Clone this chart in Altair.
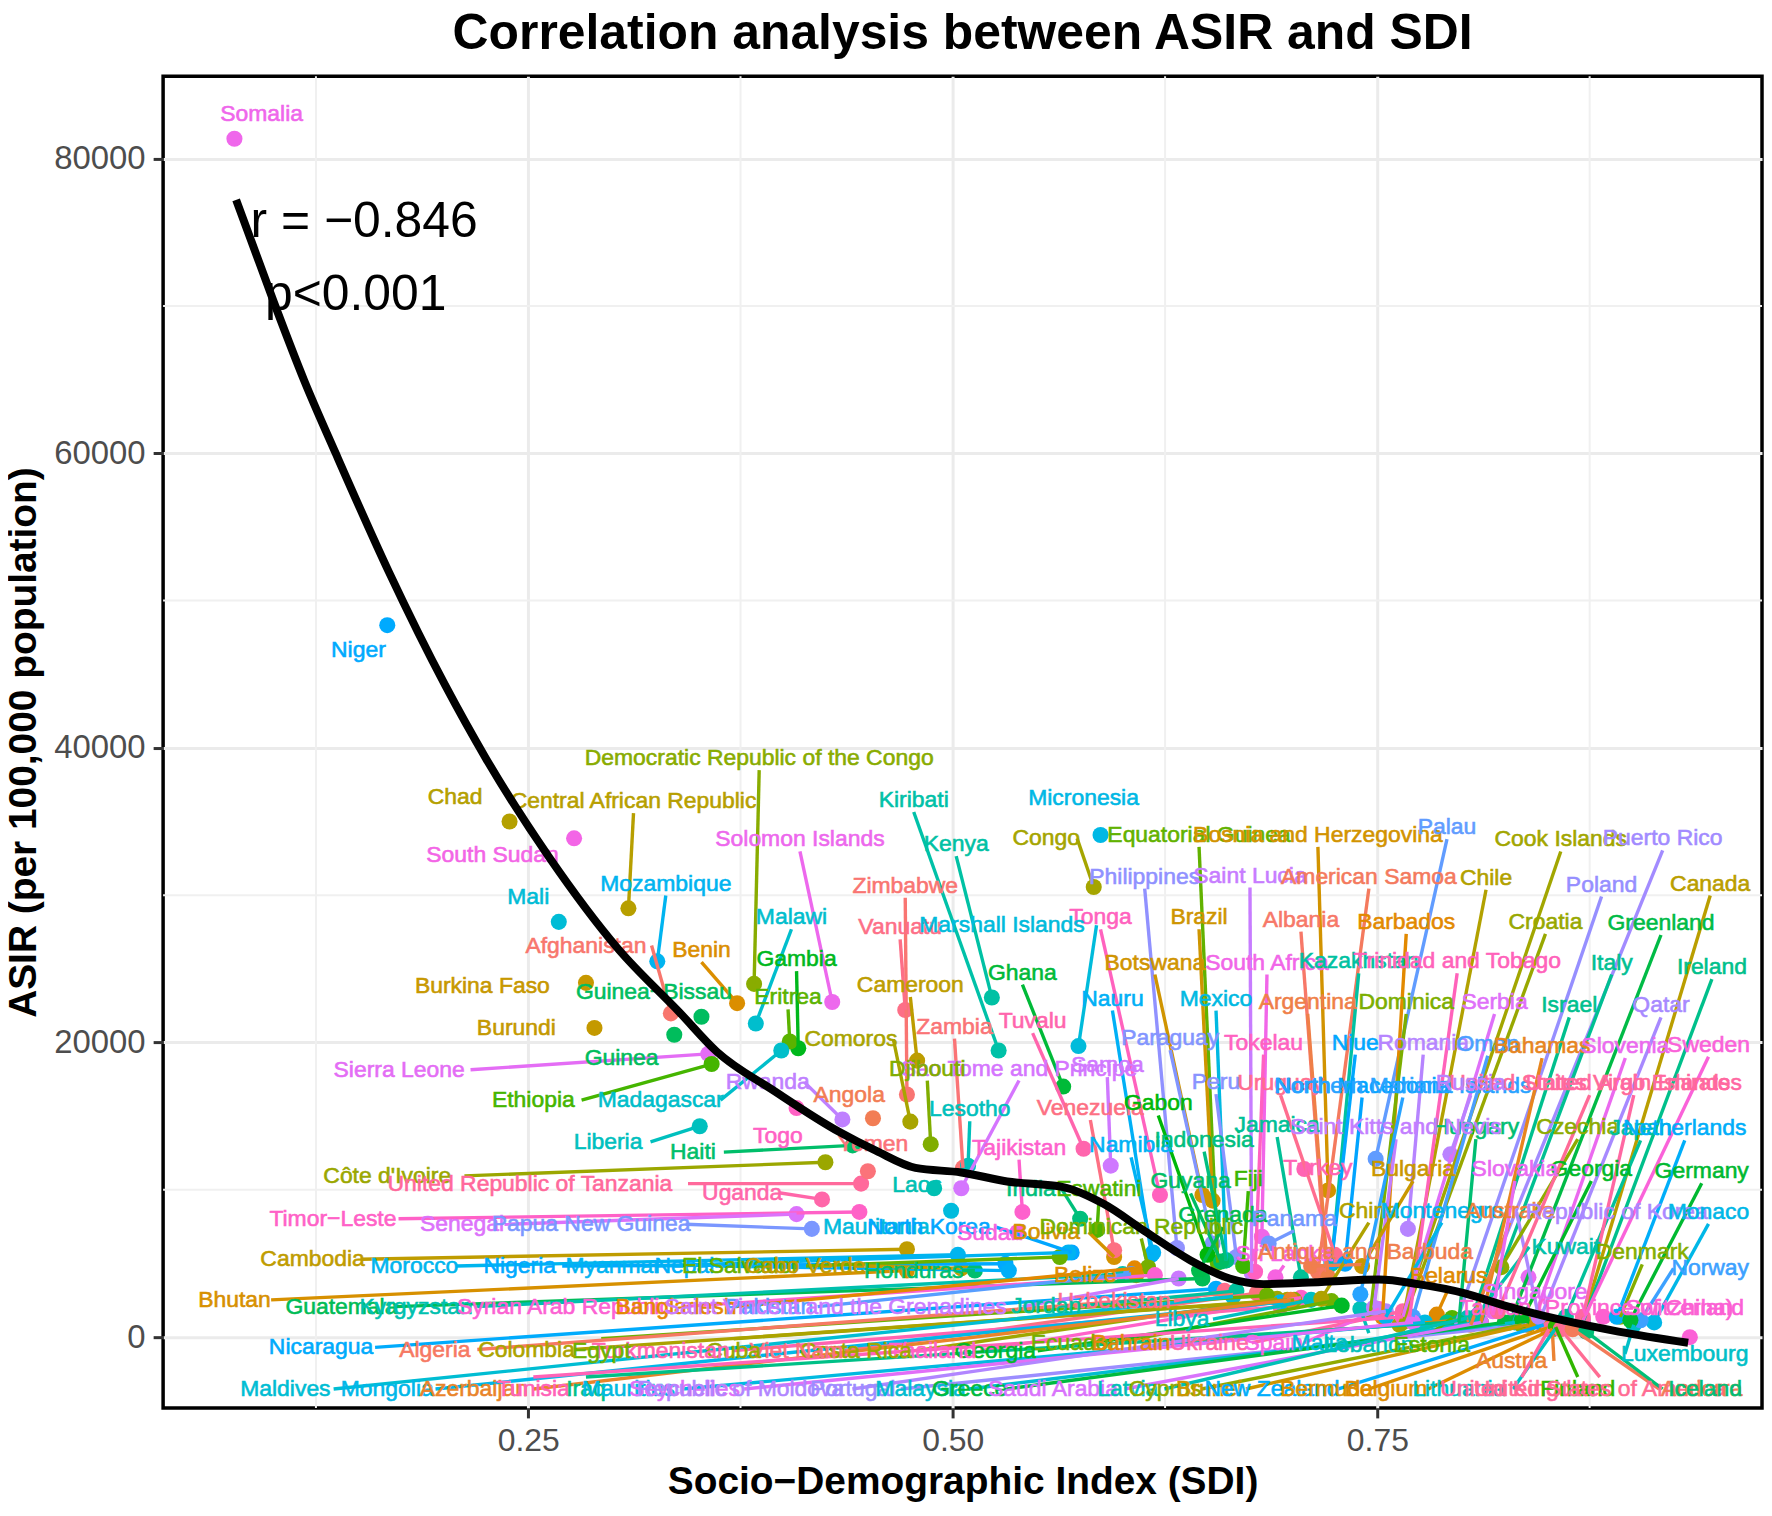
import math
import altair as alt
import pandas as pd

country_order = ["Afghanistan","Albania","Algeria","American Samoa","Andorra","Angola","Antigua and Barbuda","Argentina","Armenia","Australia","Austria","Azerbaijan","Bahamas","Bahrain","Bangladesh","Barbados","Belarus","Belgium","Belize","Benin","Bermuda","Bhutan","Bolivia","Bosnia and Herzegovina","Botswana","Brazil","Brunei","Bulgaria","Burkina Faso","Burundi","Cabo Verde","Cambodia","Cameroon","Canada","Central African Republic","Chad","Chile","China","Colombia","Comoros","Congo","Cook Islands","Costa Rica","Côte d'Ivoire","Croatia","Cuba","Cyprus","Czechia","Democratic Republic of the Congo","Denmark","Djibouti","Dominica","Dominican Republic","Ecuador","Egypt","El Salvador","Equatorial Guinea","Eritrea","Estonia","Eswatini","Ethiopia","Fiji","Finland","France","Gabon","Gambia","Georgia","Germany","Ghana","Greece","Greenland","Grenada","Guam","Guatemala","Guinea","Guinea-Bissau","Guyana","Haiti","Honduras","Hungary","Iceland","India","Indonesia","Iran","Iraq","Ireland","Israel","Italy","Jamaica","Japan","Jordan","Kazakhstan","Kenya","Kiribati","Kuwait","Kyrgyzstan","Laos","Latvia","Lebanon","Lesotho","Liberia","Libya","Lithuania","Luxembourg","Madagascar","Malawi","Malaysia","Maldives","Mali","Malta","Marshall Islands","Mauritania","Mauritius","Mexico","Micronesia","Monaco","Mongolia","Montenegro","Morocco","Mozambique","Myanmar","Namibia","Nauru","Nepal","Netherlands","New Zealand","Nicaragua","Niger","Nigeria","Niue","North Korea","North Macedonia","Northern Mariana Islands","Norway","Oman","Pakistan","Palau","Palestine","Panama","Papua New Guinea","Paraguay","Peru","Philippines","Poland","Portugal","Puerto Rico","Qatar","Republic of Korea","Republic of Moldova","Romania","Russia","Rwanda","Saint Kitts and Nevis","Saint Lucia","Saint Vincent and the Grenadines","Samoa","San Marino","Sao Tome and Principe","Saudi Arabia","Senegal","Serbia","Seychelles","Sierra Leone","Singapore","Slovakia","Slovenia","Solomon Islands","Somalia","South Africa","South Sudan","Spain","Sri Lanka","Sudan","Suriname","Sweden","Switzerland","Syrian Arab Republic","Taiwan (Province of China)","Tajikistan","Thailand","Timor-Leste","Togo","Tokelau","Tonga","Trinidad and Tobago","Tunisia","Turkey","Turkmenistan","Tuvalu","Uganda","Ukraine","United Arab Emirates","United Kingdom","United Republic of Tanzania","United States Virgin Islands","United States of America","Uruguay","Uzbekistan","Vanuatu","Venezuela","Viet Nam","Yemen","Zambia","Zimbabwe"]

names = ["Somalia","Niger","Chad","South Sudan","Central African Republic","Democratic Republic of the Congo","Mali","Mozambique","Afghanistan","Burkina Faso",
"Burundi","Benin","Guinea-Bissau","Guinea","Sierra Leone","Ethiopia","Malawi","Gambia","Eritrea","Solomon Islands",
"Madagascar","Zimbabwe","Vanuatu","Cameroon","Comoros","Zambia","Kiribati","Kenya","Micronesia","Congo",
"Equatorial Guinea","Bosnia and Herzegovina","Palau","Cook Islands","Puerto Rico","Philippines","Saint Lucia","American Samoa","Chile","Poland",
"Canada","Tonga","Marshall Islands","Ghana","Brazil","Albania","Barbados","Croatia","Greenland","Botswana",
"South Africa","Kazakhstan","Trinidad and Tobago","Nauru","Mexico","Argentina","Dominica","Serbia","Israel","Italy",
"Qatar","Ireland","Tuvalu","Sao Tome and Principe","Djibouti","Samoa","Paraguay","Tokelau","Niue","Romania",
"Oman","Bahamas","Slovenia","Sweden","Mauritania","North Korea","Sudan","Bolivia","Dominican Republic","Eswatini",
"Namibia","Ecuador","Bahrain","Belarus","Ukraine","Spain","Malta","Lebanon","Estonia","Austria",
"Luxembourg","Georgia","Thailand","Costa Rica","Viet Nam","Cuba","Turkmenistan","Egypt","Colombia","Algeria",
"Nicaragua","Maldives","Mongolia","Azerbaijan","Tunisia","Iraq","Mauritius","Seychelles","Republic of Moldova","Portugal",
"Malaysia","Greece","Saudi Arabia","Latvia","Cyprus","Brunei","New Zealand","Bermuda","Belgium","Lithuania",
"United Kingdom","Finland","United States of America","Andorra","Iceland","Guatemala","Kyrgyzstan","Syrian Arab Republic","Bangladesh","Pakistan",
"Saint Vincent and the Grenadines","Uzbekistan","Libya","Jordan","Morocco","Nigeria","Myanmar","Nepal","El Salvador","Cabo Verde",
"Honduras","Cambodia","Bhutan","Belize","Côte d'Ivoire","United Republic of Tanzania","Uganda","Timor-Leste","Senegal","Papua New Guinea",
"Angola","Rwanda","Togo","Yemen","Haiti","Liberia","Lesotho","Tajikistan","Laos","India",
"Venezuela","Gabon","Peru","Jamaica","Indonesia","Guyana","Fiji","Grenada","Panama","Sri Lanka",
"Antigua and Barbuda","China","Montenegro","Australia","Republic of Korea","Monaco","Norway","Denmark","Kuwait","Singapore",
"Taiwan (Province of China)","Switzerland","Hungary","Saint Kitts and Nevis","Czechia","Japan","Netherlands","Germany","Georgia","Slovakia",
"Bulgaria","Turkey","Uruguay","North Macedonia","Northern Mariana Islands","United States Virgin Islands","United Arab Emirates","Russia"]

sdi = [.077,.167,.239,.277,.309,.383,.268,.326,.334,.284,
.289,.373,.352,.336,.356,.358,.384,.409,.404,.429,
.399,.473,.472,.479,.475,.506,.527,.523,.587,.583,
.656,.721,.749,.763,.805,.632,.676,.715,.765,.796,
.871,.622,.574,.565,.653,.720,.753,.765,.828,.647,
.682,.723,.769,.617,.661,.721,.746,.765,.805,.811,
.845,.871,.577,.505,.487,.593,.653,.678,.723,.768,
.771,.811,.842,.871,.499,.570,.538,.595,.615,.585,
.618,.723,.798,.785,.765,.751,.809,.740,.794,.853,
.901,.729,.705,.691,.679,.701,.693,.685,.697,.665,
.655,.665,.693,.699,.765,.791,.778,.771,.755,.838,
.831,.825,.811,.803,.835,.839,.848,.850,.853,.855,
.851,.855,.858,.865,.873,.647,.600,.619,.607,.605,
.633,.660,.711,.667,.503,.531,.568,.533,.563,.505,
.513,.473,.473,.608,.425,.446,.423,.445,.408,.417,
.453,.435,.408,.450,.441,.351,.509,.541,.489,.575,
.595,.650,.667,.705,.661,.658,.671,.645,.686,.690,
.711,.717,.755,.805,.845,.913,.905,.893,.808,.839,
.883,.934,.798,.748,.823,.861,.891,.899,.835,.818,
.741,.707,.725,.731,.740,.821,.871,.793]

asir = [81350,48330,35000,33860,29110,23980,28190,25510,21980,24050,
20990,22670,21750,20530,19230,18540,21290,19610,20070,22750,
19460,16470,22210,18770,14630,11490,19460,23060,34090,30560,
5060,9960,12100,840,1000,6050,4370,4440,1150,840,
1150,9650,19760,17010,9270,4440,1380,1000,1000,9650,
6820,4980,1380,5590,5210,4060,1760,1380,1000,1000,
1000,1000,12790,10110,13100,11640,6360,4440,5130,7350,
1380,1000,1150,1150,8580,5750,7120,5440,4750,7280,
5750,2450,1150,1530,1760,1910,1000,1910,1300,540,
840,2140,2680,2600,2990,2530,2070,2830,2530,2990,
3290,2760,2370,2530,1380,1000,1000,1000,1760,840,
1000,1000,1000,1300,840,840,840,610,540,610,
540,690,540,540,380,3980,4290,4210,4670,4290,
3980,3140,2530,3140,5590,4980,5750,4520,5440,4670,
4520,5970,4520,4210,11870,10420,9350,8500,8350,7350,
14860,14780,15550,11260,13020,14320,11640,8500,10110,8040,
5900,5590,5440,4060,5210,5130,4830,4520,6360,4060,
4830,2600,1380,840,1380,1000,1150,1380,1380,4060,
1380,0,1000,2000,4750,1380,1380,1150,1150,1760,
4830,11410,5590,4980,2910,1760,1380,12410]

label_sdi = [.093,.150,.207,.229,.312,.386,.250,.331,.284,.223,
.243,.352,.324,.305,.174,.253,.405,.408,.403,.410,
.328,.472,.469,.475,.440,.501,.477,.502,.577,.555,
.645,.715,.791,.858,.918,.613,.675,.745,.814,.882,
.946,.587,.529,.541,.645,.705,.767,.849,.917,.619,
.685,.739,.797,.594,.655,.709,.767,.819,.863,.888,
.917,.947,.547,.539,.485,.591,.628,.683,.737,.777,
.815,.847,.896,.945,.455,.486,.522,.555,.611,.586,
.605,.571,.605,.792,.651,.689,.716,.745,.782,.829,
.931,.525,.488,.443,.408,.371,.328,.293,.249,.195,
.128,.107,.167,.218,.253,.284,.309,.342,.375,.441,
.481,.510,.559,.603,.625,.651,.688,.720,.755,.798,
.835,.868,.881,.941,.943,.140,.184,.271,.337,.392,
.431,.595,.635,.555,.183,.245,.300,.342,.375,.413,
.477,.123,.077,.578,.167,.251,.376,.135,.211,.287,
.439,.391,.397,.453,.347,.297,.510,.539,.479,.546,
.581,.621,.655,.691,.648,.640,.674,.659,.701,.695,
.743,.745,.788,.828,.891,.945,.946,.906,.861,.843,
.879,.931,.808,.761,.868,.905,.931,.941,.876,.831,
.771,.715,.693,.741,.765,.875,.901,.805]

label_asir = [83040,46650,36690,32710,36385,39300,29870,30790,26580,23820,
20990,26270,23440,18920,18150,16090,28500,25660,23060,33780,
16090,30640,27810,23900,20220,21070,36460,33470,36610,33860,
34090,34090,34620,33780,33860,31260,31330,31260,31180,30720,
30790,28500,27960,24740,28500,28340,28190,28190,28110,25430,
25430,25510,25510,22980,22980,22750,22750,22750,22520,25430,
22520,25120,21450,18230,18230,18460,20300,19990,19990,19990,
19920,19760,19760,19840,7510,7510,7050,7120,7510,10030,
13020,-380,-380,4140,-380,-380,-380,-540,-540,-1610,
-1150,-920,-920,-920,-920,-920,-920,-920,-840,-840,
-690,-3520,-3520,-3520,-3520,-3520,-3520,-3520,-3520,-3520,
-3520,-3520,-3520,-3520,-3520,-3520,-3520,-3520,-3520,-3520,
-3520,-3520,-3520,-3520,-3520,2070,2070,2070,2070,2070,
2070,2450,1230,2140,4830,4830,4830,4830,4830,4830,
4520,5290,2530,4210,10950,10420,9800,8040,7660,7660,
16470,17310,13630,13100,12560,13250,15470,12870,10340,10030,
15550,15860,17310,14400,13410,10570,10720,8270,8040,5670,
5750,8580,8580,8580,8500,8500,4670,5750,6130,3060,
1990,1990,14250,14250,14250,14170,14170,11260,11410,11410,
11410,11490,17240,17080,17080,17240,17240,17240]

no_segment = ["Somalia","Niger","Chad","South Sudan","Mali","Burkina Faso","Burundi","Guinea-Bissau","Guinea","Angola",
"Togo","Yemen","Micronesia","Mauritania","Laos","Turkey","Singapore","Switzerland","Taiwan (Province of China)","Belize","Sudan"]

curve_sdi = [.078,.100,.118,.137,.168,.201,.225,.262,.303,.339,.361,.395,.433,.455,.478,.505,.532,.565,.589,.613,.640,.663,.683,.717,.751,.774,.801,.825,.859,.892,.933]
curve_asir = [77200,70320,64960,59900,51930,44270,39300,32630,26350,22060,19380,16700,13940,12640,11490,11180,10570,10190,9040,7200,5210,3980,3600,3750,3910,3600,2990,2140,1150,380,-380]

minor_x = [.125,.375,.625,.875]
minor_y = [10000,30000,50000,70000]
notes = ["r = −0.846","p<0.001"]
note_x = [.0865,.095]
note_y = [74710,69700]

assert len(names)==len(sdi)==len(asir)==len(label_sdi)==len(label_asir)

W, H = 1604, 1336
XD, YD = [0.0350, 0.9765], [-4804, 85595]
FONT = "Liberation Sans"

def hue_colour(h, c=100.0, l=65.0):
    u, v = c*math.cos(math.radians(h)), c*math.sin(math.radians(h))
    un, vn = 0.19783, 0.46832
    Y = ((l+16)/116)**3
    up, vp = u/(13*l)+un, v/(13*l)+vn
    X = Y*9*up/(4*vp)
    Z = Y*(12-3*up-20*vp)/(4*vp)
    rgb = [3.2406*X-1.5372*Y-0.4986*Z, -0.9689*X+1.8758*Y+0.0415*Z, 0.0557*X-0.2040*Y+1.0570*Z]
    out = []
    for a in rgb:
        a = max(0.0, min(1.0, a))
        a = 12.92*a if a <= 0.0031308 else 1.055*a**(1/2.4)-0.055
        out.append(round(a*255))
    return "#%02x%02x%02x" % tuple(out)

colour = {n: hue_colour(15+360*i/len(country_order)) for i, n in enumerate(country_order)}
kx, ky = W/(XD[1]-XD[0]), H/(YD[1]-YD[0])

rows, segs = [], []
for n, x, y, lx, ly in zip(names, sdi, asir, label_sdi, label_asir):
    shown = n.replace("-", "−")
    rows.append(dict(name=shown, sdi=x, asir=y, lx=lx, ly=ly, col=colour[n]))
    if n in no_segment:
        continue
    # the leader line stops at the nearest mid-edge of the label's box,
    # with the top and bottom edges slightly preferred over the sides
    hw, hh = (len(n)*5.8+2)/kx, 12/ky
    anchors = [(lx-hw, ly, 1.05), (lx+hw, ly, 1.05), (lx, ly-hh, 1.0), (lx, ly+hh, 1.0)]
    ex, ey, _ = min(anchors, key=lambda a: a[2]*math.hypot((a[0]-x)*kx, (a[1]-y)*ky))
    segs.append(dict(sdi=x, asir=y, ex=ex, ey=ey, col=colour[n]))

df, seg_df = pd.DataFrame(rows), pd.DataFrame(segs)
curve_df = pd.DataFrame(dict(sdi=curve_sdi, asir=curve_asir))
note_df = pd.DataFrame(dict(t=notes, x=note_x, y=note_y))

xs = alt.Scale(domain=XD, nice=False, zero=False)
ys = alt.Scale(domain=YD, nice=False, zero=False)
col = alt.Color("col:N", scale=None, legend=None)

x_axis = alt.Axis(values=[.25,.5,.75], format=".2f", title="Socio−Demographic Index (SDI)", labelFontSize=32, labelColor="#4d4d4d",
                  labelFont=FONT, tickSize=10, tickWidth=3, tickColor="#333333", domain=False, gridColor="#ebebeb", gridWidth=3,
                  titleFont=FONT, titleFontSize=39, titleFontWeight="bold", titleColor="#000000", titlePadding=6, labelPadding=8)
y_axis = alt.Axis(values=[0,20000,40000,60000,80000], format="d", title="ASIR (per 100,000 population)", labelFontSize=33, labelColor="#4d4d4d",
                  labelFont=FONT, tickSize=10, tickWidth=3, tickColor="#333333", domain=False, gridColor="#ebebeb", gridWidth=3,
                  titleFont=FONT, titleFontSize=39, titleFontWeight="bold", titleColor="#000000", titlePadding=10, labelPadding=8)

base_pts = alt.Chart(df).mark_circle(size=260, opacity=1).encode(
    x=alt.X("sdi:Q", scale=xs, axis=x_axis), y=alt.Y("asir:Q", scale=ys, axis=y_axis), color=col)
minor_v = alt.Chart(pd.DataFrame(dict(v=minor_x))).mark_rule(color="#f0f0f0", strokeWidth=2).encode(x=alt.X("v:Q", scale=xs))
minor_h = alt.Chart(pd.DataFrame(dict(v=minor_y))).mark_rule(color="#f0f0f0", strokeWidth=2).encode(y=alt.Y("v:Q", scale=ys))
seg_layer = alt.Chart(seg_df).mark_rule(strokeWidth=3.4).encode(
    x=alt.X("sdi:Q", scale=xs), y=alt.Y("asir:Q", scale=ys), x2="ex:Q", y2="ey:Q", color=col)
labels = alt.Chart(df).mark_text(font=FONT, fontSize=23, align="center", baseline="middle", strokeWidth=0.6).encode(
    x=alt.X("lx:Q", scale=xs), y=alt.Y("ly:Q", scale=ys), text="name:N", color=col,
    stroke=alt.Stroke("col:N", scale=None, legend=None))
curve = alt.Chart(curve_df).mark_line(color="#000000", strokeWidth=8, interpolate="monotone").encode(
    x=alt.X("sdi:Q", scale=xs), y=alt.Y("asir:Q", scale=ys))
note_layer = alt.Chart(note_df).mark_text(font=FONT, fontSize=50, align="left", baseline="alphabetic", color="#000000").encode(
    x=alt.X("x:Q", scale=xs), y=alt.Y("y:Q", scale=ys), text="t:N")

chart = alt.layer(minor_v, minor_h, base_pts, seg_layer, labels, note_layer, curve).properties(
    width=W, height=H, background="#ffffff",
    title=alt.TitleParams("Correlation analysis between ASIR and SDI", font=FONT, fontSize=50, fontWeight="bold", color="#000000", anchor="middle", offset=16),
    padding={"left":155.6,"top":66,"right":2,"bottom":102},
    autosize=alt.AutoSizeParams(type="none"),
).configure_view(stroke="#000000", strokeWidth=3.5)

chart.save("out.html", embed_options={"renderer": "svg", "actions": False})
